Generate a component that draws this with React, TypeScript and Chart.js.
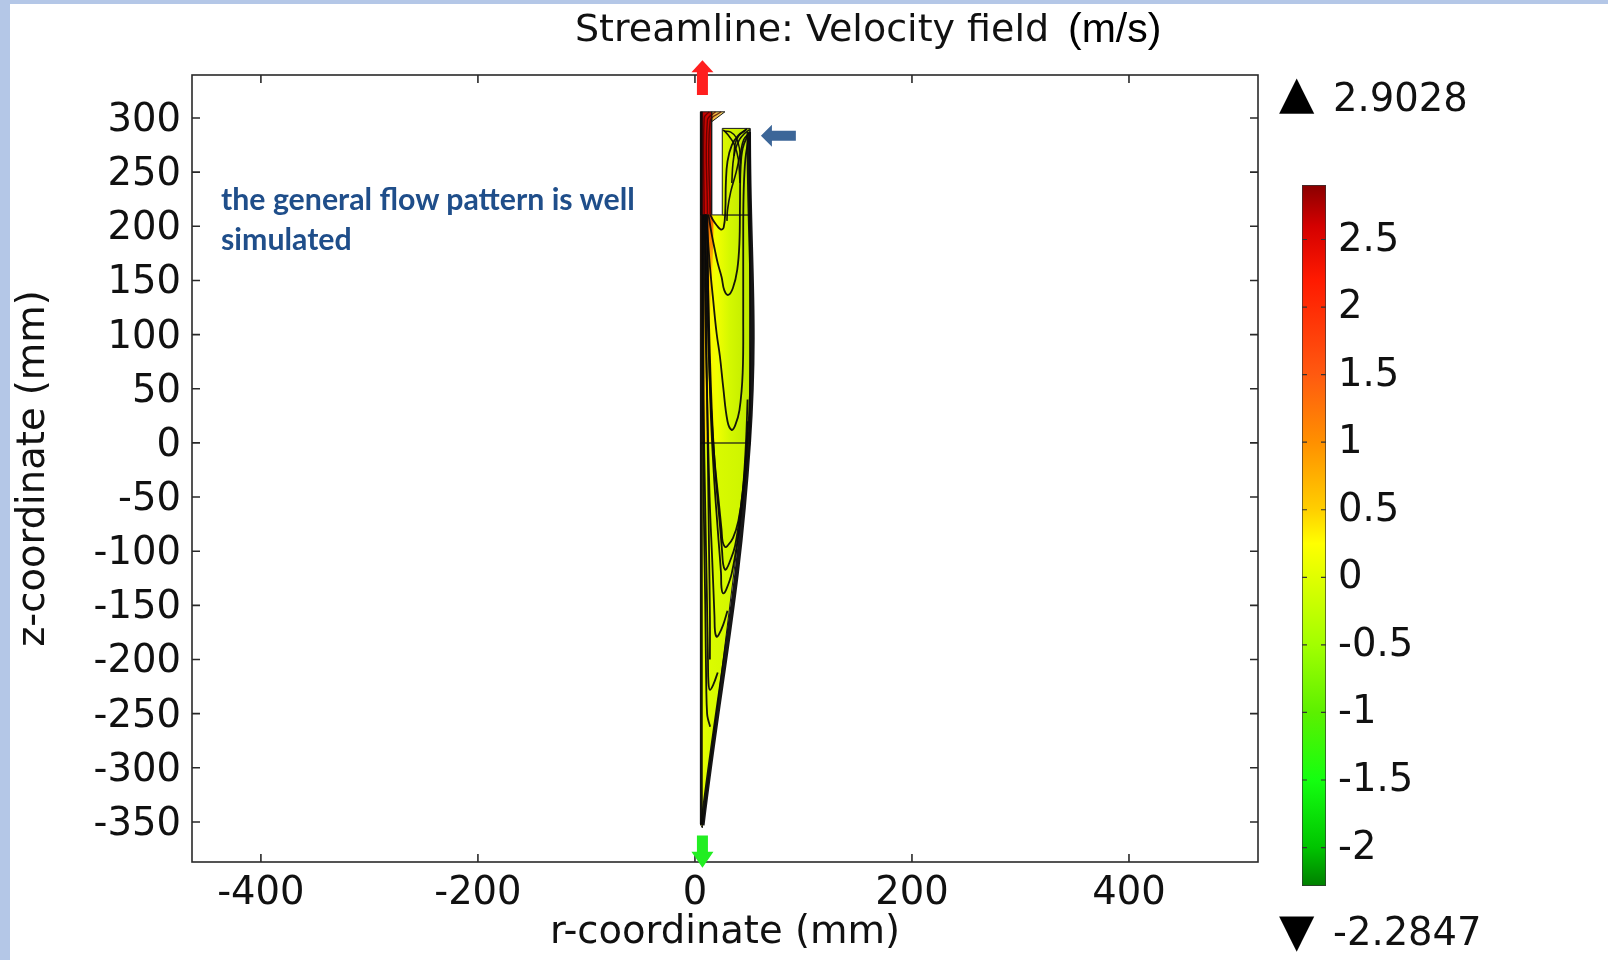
import React, { useEffect, useRef } from 'react';
import { Chart, registerables } from 'chart.js';

Chart.register(...registerables);

const SANS = '"DejaVu Sans", "Liberation Sans", sans-serif';

// ---------- axes (mm) ----------
const xTicks = [-400, -200, 0, 200, 400];
const yTicks = [300, 250, 200, 150, 100, 50, 0, -50, -100, -150, -200, -250, -300, -350];
const xMin = -463.5;
const xMax = 518.9;
const yMin = -387;
const yMax = 339.7;

// ---------- colour legend (m/s) ----------
const legendMax = 2.9028;
const legendMin = -2.2847;
const legendTicks = [2.5, 2, 1.5, 1, 0.5, 0, -0.5, -1, -1.5, -2];
const legendStopValues = [2.9028, 2.6, 2.2, 1.5, 1.0, 0.5, 0.25, 0.0, -0.5, -1.0, -1.5, -2.0, -2.2847];
const legendStopColors = ['#8a0000', '#d40000', '#ff1a00', '#ff5a10', '#ff9000', '#ffcf00', '#ffff00', '#e0ff00', '#a2ff00', '#5cf000', '#14ff10', '#00c400', '#007f00'];

// ---------- geometry: [r mm, z mm] ----------
const outletPipe = [[5, 210.5], [5, 305.7], [15.4, 305.7], [15.4, 210.5], [5, 210.5]];
const outletLip = [[15.4, 305.7], [27.6, 305.7], [15.4, 296.5], [15.4, 305.7]];
const inletSection = [[25.2, 210.5], [25.2, 290.4], [50.7, 290.4], [50.7, 210.5], [25.2, 210.5]];
const cylinderSection = [[5, 0], [5, 210.5], [50.7, 210.5], [50.7, 0], [5, 0]];
const coneSection = [[5, 0], [50.7, 0], [6.8, -355.5], [5, -352], [5, 0]];
const coreJet = [[5, 210.5], [15.4, 210.5], [17, 195], [15, 140], [11, 60], [8, 10], [5, 0], [5, 210.5]];

// ---------- streamlines: [r mm, z mm] ----------
const axisStream = [[6, -352], [6, 305.7]];
const wallStream = [[49.6, 287], [49.6, 0], [6.8, -353]];
const pipeStreamA = [[8.5, 211], [8.5, 300], [13, 305.7]];
const pipeStreamB = [[11.5, 211], [11.5, 298], [19, 305.7]];
const pipeStreamC = [[14, 211], [14, 297], [24, 305.7]];
const streamS1 = [[47, 289], [40, 284], [34, 275], [30, 260], [28.5, 240], [28, 215], [26.5, 199], [24, 197], [20, 201], [16.5, 206], [14, 211]];
const streamS2 = [[49, 285], [44, 272], [42, 252], [41.5, 220], [41, 185], [39, 160], [35, 143], [30.7, 136.6], [27, 141], [24.6, 153], [21, 166], [18.4, 178], [15, 195], [12.5, 211]];
const streamS3 = [[49.5, 282], [46.5, 262], [45, 235], [44.5, 200], [44.5, 120], [44, 65], [41, 30], [37, 16], [33.8, 12], [30, 20], [26, 52], [23, 80], [20, 101], [16.5, 135], [13.8, 163], [11.5, 195], [10, 211]];
const streamC1 = [[48.5, 40], [47, 0], [44, -45], [40, -72], [35, -88], [30, -95], [27.6, -96], [25.5, -91], [24.5, -80], [22, -55], [18, -15], [15, 30], [12.5, 90], [10.5, 160], [9, 211]];
const streamC2 = [[48.8, 20], [46, -25], [42, -62], [37, -95], [32, -110], [29, -116.5], [27.6, -117], [26, -112], [25, -100], [22.5, -70], [19, -30], [16, 20], [13.5, 90], [11.5, 170], [10.5, 211]];
const streamC3 = [[48.9, 10], [45, -40], [40, -85], [34, -120], [29, -135], [26.1, -139], [24.5, -134], [24, -120], [21, -80], [17.5, -30], [14.5, 30], [12.5, 110], [11.5, 211]];
const streamC4 = [[30, -155], [26, -168], [22, -177], [20, -179], [18.5, -174], [18, -160], [16, -110], [13.5, -50], [11.5, 30], [9.5, 120], [8.5, 211]];
const streamC5 = [[21, -212], [17, -223], [13.8, -228], [12.5, -222], [12, -200], [11, -140], [9.5, -60], [8, 40], [7.5, 211]];
const streamC6 = [[14, -262], [12, -255], [11.2, -250], [10.5, -230], [9.5, -150], [8, -50], [7, 100], [7, 211]];
const streamT1 = [[13.8, -200], [13.8, -160], [13, -100], [12, -20], [11, 60], [10, 150], [9.5, 211]];
const streamInlet = [[26, 289], [30, 285], [36, 276], [40, 262], [41.5, 240]];
const streamInletB = [[50, 286], [45, 280], [42, 268], [38, 250], [33, 232], [30, 215], [29.5, 205]];
const streamInletC = [[50, 289], [46, 286], [41, 280], [37, 270], [35, 258], [34, 240]];
const streamInletD = [[48, 290], [44, 287], [40, 283], [37, 276], [36, 265]];
const streamInletE = [[27, 288], [33, 287], [38, 282], [41, 272], [42, 258]];

// ---------- annotation arrows (data units) ----------
const outletArrow = { from: [6.9, 321.2], to: [6.9, 353.4] };
const underflowArrow = { from: [6.9, -362.5], to: [6.9, -392.2] };
const inletArrow = { from: [93, 283.6], to: [60.8, 283.6] };

// ---------- styles ----------
const pipeFill: [number, string][] = [[5, '#8a0000'], [7.5, '#c00000'], [12, '#d00800'], [15.4, '#a00000']];
const lipFill: [number, string][] = [[15.4, '#f2b030'], [27.6, '#f6e27a']];
const inletFill: [number, string][] = [[25.2, '#dcf800'], [50.7, '#bce600']];
const cylinderFill: [number, string][] = [[5, '#ffa000'], [8, '#ffc800'], [12, '#fff200'], [20, '#f2ff00'], [32, '#d4f800'], [50.7, '#bfea00']];
const coneFill: [number, string][] = [[5, '#ecff00'], [12, '#dcfc00'], [50.7, '#ccf400']];
const jetFill: [number, string][] = [[210.5, 'rgba(245,70,0,0.9)'], [160, 'rgba(255,140,0,0.55)'], [40, 'rgba(255,200,0,0)']];

function hGrad(chart: any, stops: [number, string][]) {
  const { ctx, chartArea, scales } = chart;
  if (!chartArea || !scales.x) return stops[Math.floor(stops.length / 2)][1];
  const x0 = scales.x.getPixelForValue(stops[0][0]);
  const x1 = scales.x.getPixelForValue(stops[stops.length - 1][0]);
  const g = ctx.createLinearGradient(x0, 0, x1, 0);
  stops.forEach(([r, c]) => {
    const t = (scales.x.getPixelForValue(r) - x0) / (x1 - x0);
    g.addColorStop(Math.min(1, Math.max(0, t)), c);
  });
  return g;
}

function vGrad(chart: any, stops: [number, string][]) {
  const { ctx, chartArea, scales } = chart;
  if (!chartArea || !scales.y) return stops[0][1];
  const y0 = scales.y.getPixelForValue(stops[0][0]);
  const y1 = scales.y.getPixelForValue(stops[stops.length - 1][0]);
  const g = ctx.createLinearGradient(0, y0, 0, y1);
  stops.forEach(([z, c]) => {
    const t = (scales.y.getPixelForValue(z) - y0) / (y1 - y0);
    g.addColorStop(Math.min(1, Math.max(0, t)), c);
  });
  return g;
}

const toPts = (a: number[][]) => a.map(([x, y]) => ({ x, y }));

const region = (pts: number[][], stops: [number, string][], order = 3, vertical = false, border = 1) => ({
  data: toPts(pts),
  fill: 'shape',
  backgroundColor: (c: any) => (vertical ? vGrad(c.chart, stops) : hGrad(c.chart, stops)),
  borderColor: border ? '#1a1a1a' : 'rgba(0,0,0,0)',
  borderWidth: border,
  pointRadius: 0,
  tension: vertical ? 0.3 : 0,
  order,
});

const stream = (pts: number[][], width = 1.8, color = 'rgba(10,10,10,0.95)') => ({
  data: toPts(pts),
  fill: false,
  borderColor: color,
  borderWidth: width,
  pointRadius: 0,
  tension: 0.4,
  order: 1,
});

const framePlugin = {
  id: 'frame',
  beforeDatasetsDraw(chart: any) {
    const { ctx, chartArea, scales } = chart;
    const { left, right, top, bottom } = chartArea;
    ctx.save();
    ctx.strokeStyle = '#2a2a2a';
    ctx.lineWidth = 1.6;
    ctx.strokeRect(left, top, right - left, bottom - top);
    const L = 8;
    ctx.beginPath();
    xTicks.forEach((v) => {
      const px = scales.x.getPixelForValue(v);
      ctx.moveTo(px, bottom); ctx.lineTo(px, bottom - L);
      ctx.moveTo(px, top); ctx.lineTo(px, top + L);
    });
    yTicks.forEach((v) => {
      const py = scales.y.getPixelForValue(v);
      ctx.moveTo(left, py); ctx.lineTo(left + L, py);
      ctx.moveTo(right, py); ctx.lineTo(right - L, py);
    });
    ctx.stroke();
    ctx.restore();
  },
};

const arrowSpecs = [
  { ...outletArrow, color: '#ff1f1f', shaft: 11, headLen: 12, headHalf: 11 },
  { ...underflowArrow, color: '#22ee22', shaft: 11, headLen: 16, headHalf: 11 },
  { ...inletArrow, color: '#3c6698', shaft: 10, headLen: 11, headHalf: 11 },
];

const arrowPlugin = {
  id: 'arrows',
  afterDatasetsDraw(chart: any) {
    const { ctx, scales } = chart;
    ctx.save();
    arrowSpecs.forEach((a) => {
      const x0 = scales.x.getPixelForValue(a.from[0]);
      const y0 = scales.y.getPixelForValue(a.from[1]);
      const x1 = scales.x.getPixelForValue(a.to[0]);
      const y1 = scales.y.getPixelForValue(a.to[1]);
      const len = Math.hypot(x1 - x0, y1 - y0);
      const ux = (x1 - x0) / len;
      const uy = (y1 - y0) / len;
      const nx = -uy;
      const ny = ux;
      const bx = x1 - ux * a.headLen;
      const by = y1 - uy * a.headLen;
      ctx.fillStyle = a.color;
      ctx.beginPath();
      ctx.moveTo(x0 + nx * a.shaft / 2, y0 + ny * a.shaft / 2);
      ctx.lineTo(bx + nx * a.shaft / 2, by + ny * a.shaft / 2);
      ctx.lineTo(bx + nx * a.headHalf, by + ny * a.headHalf);
      ctx.lineTo(x1, y1);
      ctx.lineTo(bx - nx * a.headHalf, by - ny * a.headHalf);
      ctx.lineTo(bx - nx * a.shaft / 2, by - ny * a.shaft / 2);
      ctx.lineTo(x0 - nx * a.shaft / 2, y0 - ny * a.shaft / 2);
      ctx.closePath();
      ctx.fill();
    });
    ctx.restore();
  },
};

const legendTickPlugin = {
  id: 'legendTicks',
  afterDatasetsDraw(chart: any) {
    const { ctx, chartArea, scales } = chart;
    ctx.save();
    ctx.strokeStyle = '#333';
    ctx.lineWidth = 1.2;
    ctx.beginPath();
    legendTicks.forEach((v) => {
      const py = scales.y.getPixelForValue(v);
      ctx.moveTo(chartArea.left, py); ctx.lineTo(chartArea.left + 5, py);
      ctx.moveTo(chartArea.right, py); ctx.lineTo(chartArea.right - 5, py);
    });
    ctx.stroke();
    ctx.restore();
  },
};

function legendGradient(chart: any) {
  const { ctx, chartArea, scales } = chart;
  if (!chartArea || !scales.y) return '#ffff00';
  const yTop = scales.y.getPixelForValue(legendMax);
  const yBot = scales.y.getPixelForValue(legendMin);
  const g = ctx.createLinearGradient(0, yTop, 0, yBot);
  legendStopValues.forEach((v, i) => {
    const t = (legendMax - v) / (legendMax - legendMin);
    g.addColorStop(Math.min(1, Math.max(0, t)), legendStopColors[i]);
  });
  return g;
}

export default function App() {
  const mainRef = useRef<HTMLCanvasElement>(null);
  const barRef = useRef<HTMLCanvasElement>(null);

  useEffect(() => {
    const pipeLine = 'rgba(70,0,0,0.75)';
    const main = new Chart(mainRef.current as HTMLCanvasElement, {
      type: 'line',
      data: {
        datasets: [
          stream(axisStream, 2.6),
          stream(wallStream, 4.5),
          stream(pipeStreamA, 1.4, pipeLine),
          stream(pipeStreamB, 1.4, pipeLine),
          stream(pipeStreamC, 1.4, pipeLine),
          stream(streamS1),
          stream(streamS2),
          stream(streamS3),
          stream(streamC1),
          stream(streamC2),
          stream(streamC3),
          stream(streamC4),
          stream(streamC5),
          stream(streamC6),
          stream(streamT1),
          stream(streamInlet, 1.6),
          stream(streamInletB, 1.6),
          stream(streamInletC, 1.6),
          stream(streamInletD, 1.6),
          stream(streamInletE, 1.4),
          region(coreJet, jetFill, 2, true, 0),
          region(outletPipe, pipeFill),
          region(outletLip, lipFill),
          region(inletSection, inletFill),
          region(cylinderSection, cylinderFill),
          region(coneSection, coneFill),
        ] as any,
      },
      options: {
        responsive: false,
        animation: false,
        events: [],
        layout: { padding: { left: 0, top: 75, right: 350, bottom: 0 } },
        plugins: { legend: { display: false }, tooltip: { enabled: false } },
        scales: {
          x: {
            type: 'linear',
            position: 'bottom',
            min: xMin,
            max: xMax,
            afterBuildTicks: (s: any) => { s.ticks = xTicks.map((v) => ({ value: v })); },
            afterFit: (s: any) => { s.height = 98; },
            grid: { display: false, drawTicks: false },
            border: { display: false },
            ticks: { font: { family: SANS, size: 38.5 }, color: '#111', padding: 9, maxRotation: 0, autoSkip: false, callback: (v: any) => String(v) },
            title: { display: true, text: 'r-coordinate (mm)', color: '#111', font: { family: SANS, size: 38.5 }, padding: { top: 0, bottom: 4 } },
          },
          y: {
            type: 'linear',
            min: yMin,
            max: yMax,
            afterBuildTicks: (s: any) => { s.ticks = yTicks.map((v) => ({ value: v })); },
            afterFit: (s: any) => { s.width = 192; },
            grid: { display: false, drawTicks: false },
            border: { display: false },
            ticks: { font: { family: SANS, size: 38.5 }, color: '#111', padding: 11, labelOffset: 3, autoSkip: false, callback: (v: any) => String(v) },
            title: { display: true, text: 'z-coordinate (mm)', color: '#111', font: { family: SANS, size: 38.5 }, padding: { top: 11, bottom: 0 } },
          },
        },
      } as any,
      plugins: [framePlugin, arrowPlugin],
    });

    const bar = new Chart(barRef.current as HTMLCanvasElement, {
      type: 'bar',
      data: {
        labels: ['velocity'],
        datasets: [
          {
            data: [[legendMin, legendMax]] as any,
            backgroundColor: (c: any) => legendGradient(c.chart),
            borderColor: '#333',
            borderWidth: 1,
            borderSkipped: false,
            barPercentage: 1,
            categoryPercentage: 1,
          },
        ],
      },
      options: {
        responsive: false,
        animation: false,
        events: [],
        layout: { padding: { left: 12, top: 31.5, right: 0, bottom: 54 } },
        plugins: { legend: { display: false }, tooltip: { enabled: false } },
        scales: {
          x: { display: false },
          y: {
            type: 'linear',
            position: 'right',
            min: legendMin,
            max: legendMax,
            afterBuildTicks: (s: any) => { s.ticks = legendTicks.map((v) => ({ value: v })); },
            afterFit: (s: any) => { s.width = 164; },
            grid: { display: false, drawTicks: false },
            border: { display: false },
            ticks: { font: { family: SANS, size: 38.5 }, color: '#111', padding: 12, labelOffset: 1, autoSkip: false, callback: (v: any) => String(v) },
          },
        },
      } as any,
      plugins: [legendTickPlugin],
    });

    return () => {
      main.destroy();
      bar.destroy();
    };
  }, []);

  const abs = (extra: React.CSSProperties): React.CSSProperties => ({ position: 'absolute', whiteSpace: 'pre', lineHeight: 1, margin: 0, ...extra });
  const noteFont = 'Lato, "Open Sans", sans-serif';

  return (
    <div style={{ position: 'absolute', left: 0, top: 0, width: 1608, height: 960, background: '#ffffff', overflow: 'hidden' }}>
      <div style={{ position: 'absolute', left: 0, top: 0, width: 1608, height: 4, background: '#b4c7e7' }} />
      <div style={{ position: 'absolute', left: 0, top: 0, width: 10, height: 960, background: '#b4c7e7' }} />
      <canvas ref={mainRef} width={1608} height={960} style={{ position: 'absolute', left: 0, top: 0, width: 1608, height: 960 }} />
      <canvas ref={barRef} width={200} height={790} style={{ position: 'absolute', left: 1290, top: 150, width: 200, height: 790 }} />
      <span style={abs({ left: 575, top: 9, fontFamily: SANS, fontSize: 38, color: '#111' })}>Streamline: Velocity field</span>
      <span style={abs({ left: 1068, top: 8, fontFamily: '"Liberation Sans", Arial, sans-serif', fontSize: 41, color: '#000' })}>(m/s)</span>
      <span style={abs({ left: 221, top: 183, fontFamily: noteFont, fontWeight: 700, fontSize: 30.3, color: '#1f4e8a' })}>the general flow pattern is well</span>
      <span style={abs({ left: 221, top: 222.5, fontFamily: noteFont, fontWeight: 700, fontSize: 30.3, color: '#1f4e8a' })}>simulated</span>
      <span style={abs({ left: 1279, top: 69, fontFamily: SANS, fontSize: 46, color: '#000' })}>▲</span>
      <span style={abs({ left: 1333, top: 78.5, fontFamily: SANS, fontSize: 38.5, color: '#111' })}>2.9028</span>
      <span style={abs({ left: 1279, top: 907, fontFamily: SANS, fontSize: 46, color: '#000' })}>▼</span>
      <span style={abs({ left: 1333, top: 912.5, fontFamily: SANS, fontSize: 38.5, color: '#111' })}>-2.2847</span>
    </div>
  );
}
